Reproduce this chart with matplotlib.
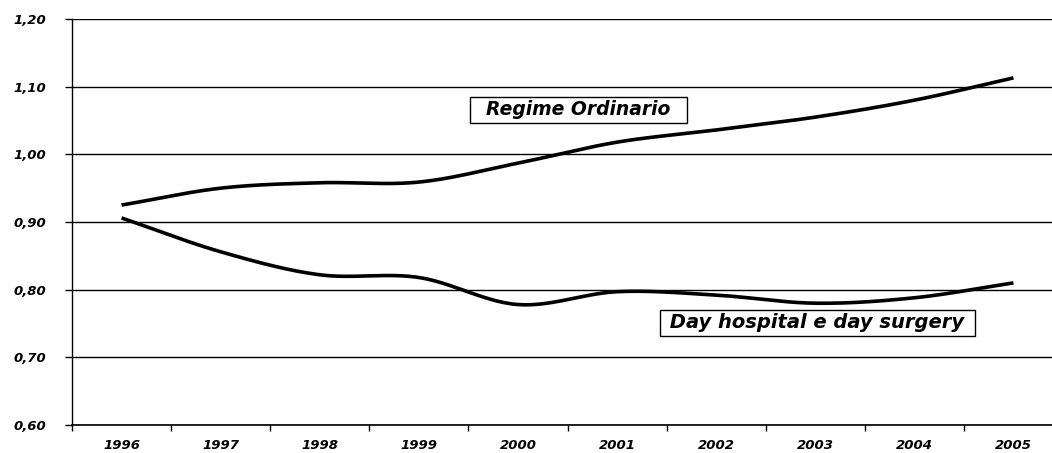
import numpy as np
import matplotlib
matplotlib.use("Agg")
import matplotlib.pyplot as plt

years = ["1996", "1997", "1998", "1999", "2000", "2001", "2002", "2003", "2004", "2005"]
regime_ordinario = [0.925, 0.950, 0.958, 0.959, 0.987, 1.018, 1.036, 1.055, 1.080, 1.113]
day_hospital = [0.906, 0.856, 0.822, 0.818, 0.778, 0.797, 0.792, 0.780, 0.788, 0.810]
y_ticks = [0.60, 0.70, 0.80, 0.90, 1.00, 1.10, 1.20]
label_ro = "Regime Ordinario"
label_dh = "Day hospital e day surgery"


def smooth(xs, ys, n=30):
    # Catmull-Rom style smoothing (like spreadsheet "smoothed line")
    xs = np.asarray(xs, float)
    ys = np.asarray(ys, float)
    P = np.column_stack([xs, ys])
    P = np.vstack([P[0] - (P[1] - P[0]), P, P[-1] + (P[-1] - P[-2])])
    out = []
    t = np.linspace(0, 1, n)[:, None]
    for i in range(1, len(P) - 2):
        p0, p1, p2, p3 = P[i - 1], P[i], P[i + 1], P[i + 2]
        seg = 0.5 * ((2 * p1) + (-p0 + p2) * t + (2 * p0 - 5 * p1 + 4 * p2 - p3) * t ** 2
                     + (-p0 + 3 * p1 - 3 * p2 + p3) * t ** 3)
        out.append(seg if i == 1 else seg[1:])
    out = np.vstack(out)
    return out[:, 0], out[:, 1]


plt.rcParams['font.family'] = ['DejaVu Sans']
fig = plt.figure(figsize=(10.52, 4.53), dpi=100)
W, H = 1052, 453
left, right, top, bottom = 72, 1063, 19, 425
ax = fig.add_axes([left / W, 1 - bottom / H, (right - left) / W, (bottom - top) / H])

x = np.arange(len(years))
for vals in (regime_ordinario, day_hospital):
    sx, sy = smooth(x, vals)
    ax.plot(sx, sy, color='black', lw=2.6, solid_capstyle='butt', zorder=3)

tick_font = dict(fontsize=9.5, fontweight='bold', fontstyle='oblique')
ax.set_xlim(-0.5, len(years) - 0.5)
ax.set_ylim(0.60, 1.20)
ax.set_yticks(y_ticks)
ax.set_yticklabels([f"{v:.2f}".replace('.', ',') for v in y_ticks], **tick_font)
ax.set_xticks(x)
ax.set_xticklabels(years, **tick_font)
ax.set_xticks(np.arange(-0.5, len(years)), minor=True)
ax.tick_params(axis='x', which='major', length=0, pad=10)
ax.tick_params(axis='x', which='minor', length=4, width=1, direction='out')
ax.tick_params(axis='y', length=5, width=1, direction='out', pad=13.5)
for yv in y_ticks:
    ax.axhline(yv, color='black', lw=1.0, zorder=1)
for s in ('top', 'right'):
    ax.spines[s].set_visible(False)
ax.spines['left'].set_linewidth(1.0)
ax.spines['bottom'].set_linewidth(1.2)

box = dict(boxstyle='square,pad=0.18', fc='white', ec='black', lw=1.0)
ax.text(4.61, 1.066, "  " + label_ro + "  ", ha='center', va='center', fontsize=13.5,
        fontweight='bold', fontstyle='oblique', bbox=box, zorder=4)
ax.text(7.02, 0.751, " " + label_dh + " ", ha='center', va='center', fontsize=14,
        fontweight='bold', fontstyle='oblique', bbox=box, zorder=4)

fig.savefig("out.png", dpi=100)
